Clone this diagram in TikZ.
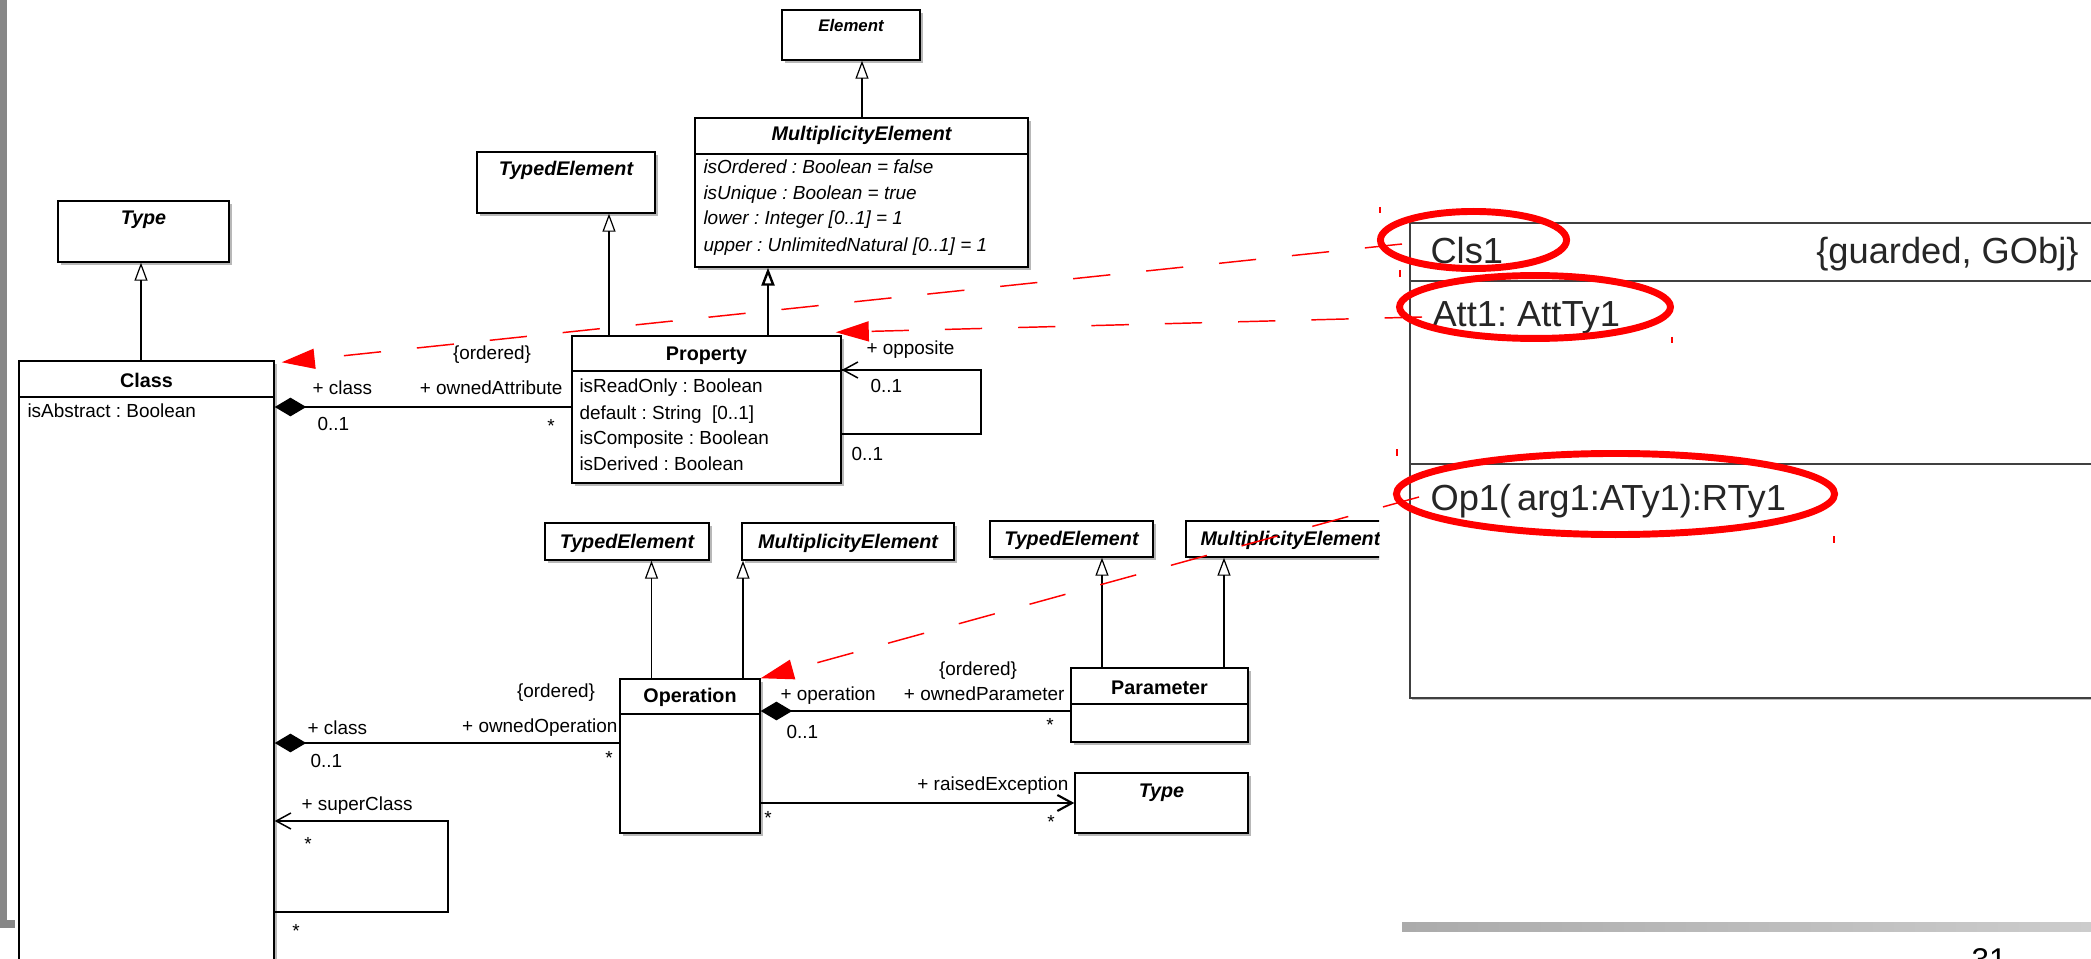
\documentclass[tikz,border=0pt]{standalone}
\usepackage{fontspec}
\setmainfont{Liberation Sans}
\usetikzlibrary{arrows.meta,shapes.geometric,shadows,fit}
\frenchspacing

\newcommand\umlsmall{\fontsize{7.1pt}{8.5pt}\selectfont}
\newcommand\umlhead{\fontsize{7.4pt}{9pt}\selectfont\bfseries}
\newcommand\umlbig{\fontsize{13.6pt}{16pt}\selectfont}

\tikzset{
  x=0.375pt, y=-0.375pt,
  umlbox/.style={draw=black, line width=0.55pt, fill=white, inner sep=0pt,
    drop shadow={shadow xshift=1pt, shadow yshift=-1pt, fill=black!28, opacity=1}},
  bigbox/.style={draw=black!75, line width=1.1pt, fill=white, inner sep=0pt,
    drop shadow={shadow xshift=0.8pt, shadow yshift=-0.8pt, fill=black!25, opacity=1}},
  sep/.style={line width=0.45pt},
  bigsep/.style={draw=black!75, line width=1.1pt},
  gen/.style={line width=0.45pt, -{Triangle[open, length=6.75pt, width=4.9pt]}},
  genthick/.style={line width=0.9pt, -{Triangle[open, length=6.75pt, width=4.9pt]}},
  comp/.style={line width=0.9pt, {Diamond[length=11.8pt, width=7pt]}-},
  nav/.style={line width=0.55pt, -{Straight Barb[length=5.5pt, width=6pt]}},
  trace/.style={red, line width=0.55pt, dash pattern=on 14pt off 13.5pt,
    -{Triangle[length=12.4pt, width=7.5pt]}},
  ring/.style={ellipse, draw=red, line width=2.6pt, inner sep=0pt},
  tick/.style={red, line width=0.4pt},
  lbl/.style={inner sep=0pt, font=\umlsmall},
  ttl/.style={inner sep=0pt, font=\umlhead},
  attl/.style={inner sep=0pt, font=\umlhead\itshape},
  bigtxt/.style={inner sep=0pt, font=\umlbig, text=black!85},
}

\begin{document}
\begin{tikzpicture}
\useasboundingbox (0,0) rectangle (2091,959);
\clip (0,0) rectangle (2091,959);
\fill[white] (0,0) rectangle (2091,959);

% slide frame
\fill[black!47] (0,0) rectangle (7,928);
\fill[black!47] (0,920) rectangle (15,928);
\shade[left color=black!33, right color=black!20] (1402,922) rectangle (2091,931);
\node[anchor=base west, inner sep=0pt, font=\fontsize{11.8pt}{14pt}\selectfont] (pg) at (1971,970) {31};

% ---------- class boxes ----------
\node[umlbox, fit={(58,201) (229,262)}] (typeA) {};
\node[attl] at (143.5,225) [anchor=base] {Type};

\node[umlbox, fit={(19,361) (274,1000)}] (class) {};
\draw[sep] (19,397) -- (274,397);
\node[ttl, anchor=base] at (146.5,387) {Class};
\node[lbl, anchor=base west] at (27,417) {isAbstract : Boolean};

\node[umlbox, fit={(477,152) (655,213)}] (teA) {};
\node[attl, anchor=base] at (566,176) {TypedElement};

\node[umlbox, fit={(782,10) (920,60)}] (elem) {};
\node[inner sep=0pt, font=\fontsize{6.3pt}{7.5pt}\selectfont\bfseries\itshape, anchor=base] at (851,32) {Element};

\node[umlbox, fit={(695,118) (1028,267)}] (meA) {};
\draw[sep] (695,154) -- (1028,154);
\node[attl, anchor=base] at (861.5,141) {MultiplicityElement};
\node[lbl, anchor=base west, font=\umlsmall\itshape] at (703,174) {isOrdered : Boolean = false};
\node[lbl, anchor=base west, font=\umlsmall\itshape] at (703,200) {isUnique : Boolean = true};
\node[lbl, anchor=base west, font=\umlsmall\itshape] at (703,225) {lower : Integer [0..1] = 1};
\node[lbl, anchor=base west, font=\umlsmall\itshape] at (703,252) {upper : UnlimitedNatural [0..1] = 1};

\node[umlbox, fit={(572,336) (841,483)}] (prop) {};
\draw[sep] (572,371) -- (841,371);
\node[ttl, anchor=base] at (706.5,361) {Property};
\node[lbl, anchor=base west] at (579,392) {isReadOnly : Boolean};
\node[lbl, anchor=base west] at (579,419) {default : String\ \ [0..1]};
\node[lbl, anchor=base west] at (579,444) {isComposite : Boolean};
\node[lbl, anchor=base west] at (579,470) {isDerived : Boolean};

\node[umlbox, fit={(545,523) (709,560)}] (teB) {};
\node[attl, anchor=base] at (627,549) {TypedElement};
\node[umlbox, fit={(742,523) (954,560)}] (meB) {};
\node[attl, anchor=base] at (848,549) {MultiplicityElement};
\node[umlbox, fit={(990,521) (1153,557)}] (teC) {};
\node[attl, anchor=base] at (1071.5,545) {TypedElement};
\begin{scope}
  \clip (1100,500) rectangle (1379,600);
  \node[umlbox, fit={(1186,521) (1420,557)}] (meC) {};
  \node[attl, anchor=base west] at (1200,545) {MultiplicityElement};
\end{scope}

\node[umlbox, fit={(620,679) (760,833)}] (op) {};
\draw[sep] (620,714) -- (760,714);
\node[ttl, anchor=base] at (690,702) {Operation};

\node[umlbox, fit={(1071,668) (1248,742)}] (param) {};
\draw[sep] (1071,704) -- (1248,704);
\node[ttl, anchor=base] at (1159.5,694) {Parameter};

\node[umlbox, fit={(1075,773) (1248,833)}] (typeB) {};
\node[attl, anchor=base] at (1161.5,797) {Type};

% ---------- generalizations ----------
\coordinate (gxA) at (141,0);
\coordinate (gxB) at (609,0);
\coordinate (gxC) at (768,0);
\coordinate (gxD) at (862,0);
\coordinate (gxE) at (651.5,0);
\coordinate (gxF) at (743,0);
\coordinate (gxG) at (1102,0);
\coordinate (gxH) at (1224,0);
\draw[gen] (class.north -| gxA) -- (typeA.south -| gxA);
\draw[gen] (prop.north -| gxB) -- (teA.south -| gxB);
\draw[genthick] (prop.north -| gxC) -- (meA.south -| gxC);
\draw[gen] (meA.north -| gxD) -- (elem.south -| gxD);
\draw[gen] (op.north -| gxE) -- (teB.south -| gxE);
\draw[gen] (op.north -| gxF) -- (meB.south -| gxF);
\draw[gen] (param.north -| gxG) -- (teC.south -| gxG);
\draw[gen] (param.north -| gxH) -- (meC.south -| gxH);

% ---------- associations ----------
\coordinate (yPA) at (0,407);
\draw[comp] (class.east |- yPA) -- (prop.west |- yPA);
\node[lbl, anchor=base] at (492,359) {\{ordered\}};
\node[lbl, anchor=base west] at (312,394) {+ class};
\node[lbl, anchor=base east] at (563,394) {+ ownedAttribute};
\node[lbl, anchor=base west] at (317,430) {0..1};
\node[lbl, anchor=base] at (551,433) {*};

\coordinate (yCO) at (0,743);
\draw[comp] (class.east |- yCO) -- (op.west |- yCO);
\node[lbl, anchor=base] at (556,697) {\{ordered\}};
\node[lbl, anchor=base west] at (307,734) {+ class};
\node[lbl, anchor=base east] at (618,732) {+ ownedOperation};
\node[lbl, anchor=base west] at (310,767) {0..1};
\node[lbl, anchor=base] at (609,764) {*};

\coordinate (yOP) at (0,711);
\draw[comp] (op.east |- yOP) -- (param.west |- yOP);
\node[lbl, anchor=base] at (978,675) {\{ordered\}};
\node[lbl, anchor=base west] at (780,700) {+ operation};
\node[lbl, anchor=base east] at (1065,700) {+ ownedParameter};
\node[lbl, anchor=base west] at (786,738) {0..1};
\node[lbl, anchor=base] at (1050,731) {*};

\coordinate (yRE) at (0,803);
\draw[nav, line width=0.8pt] (op.east |- yRE) -- (typeB.west |- yRE);
\node[lbl, anchor=base east] at (1069,790) {+ raisedException};
\node[lbl, anchor=base] at (768,824) {*};
\node[lbl, anchor=base] at (1051,828) {*};

% self association of Property
\coordinate (yOb) at (0,434);
\coordinate (loopO) at (981,370);
\draw[nav] (prop.east |- yOb) -| (loopO) -- (prop.east |- loopO);
\draw[line width=0.9pt] (prop.east |- loopO) -- (loopO);
\node[lbl, anchor=base west] at (866,355) {+ opposite};
\node[lbl, anchor=base west] at (870,393) {0..1};
\node[lbl, anchor=base west] at (851,460) {0..1};

% self association of Class
\coordinate (ySb) at (0,912);
\coordinate (loopS) at (448,821);
\draw[nav] (class.east |- ySb) -| (loopS) -- (class.east |- loopS);
\node[lbl, anchor=base west] at (301,810) {+ superClass};
\node[lbl, anchor=base] at (308,850) {*};
\node[lbl, anchor=base] at (296,937) {*};

% ---------- example class ----------
\node[bigbox, fit={(1410,223) (2110,698)}] (cls) {};
\draw[bigsep] (1410,281) -- (2110,281);
\draw[bigsep] (1410,464) -- (2110,464);
\node[bigtxt, anchor=base west] (tCls) at (1430,264) {Cls1};
\node[bigtxt, anchor=base east] (tGrd) at (2079,264) {\{guarded, GObj\}};
\node[bigtxt, anchor=base west] (tAtt) at (1432,327) {Att1: AttTy1};
\node[bigtxt, anchor=base west] (tOp) at (1430,510) {Op1(\,arg1:ATy1):RTy1};

% highlight rings
\node[ring, minimum width=69.8pt, minimum height=21.4pt] (rC) at (1473.5,240) {};
\node[ring, minimum width=101.6pt, minimum height=23.6pt] (rA) at (1535,307) {};
\node[ring, minimum width=164.3pt, minimum height=30.4pt] (rO) at (1615.5,494) {};
\draw[tick] (1380,207) -- (1380,213);
\draw[tick] (1400,270) -- (1400,277);
\draw[tick] (1672,337) -- (1672,343);
\draw[tick] (1397,449) -- (1397,456);
\draw[tick] (1834,536) -- (1834,543);

% trace links
\coordinate (tC) at (1402,244);
\coordinate (tA) at (1422,317);
\coordinate (tO) at (1419,497);
\draw[trace] (tC) -- ([shift={(7,2)}]class.north east);
\draw[trace] (tA) -- ([shift={(-6,-3)}]prop.north east);
\draw[trace] (tO) -- (op.north east);
\end{tikzpicture}
\end{document}
